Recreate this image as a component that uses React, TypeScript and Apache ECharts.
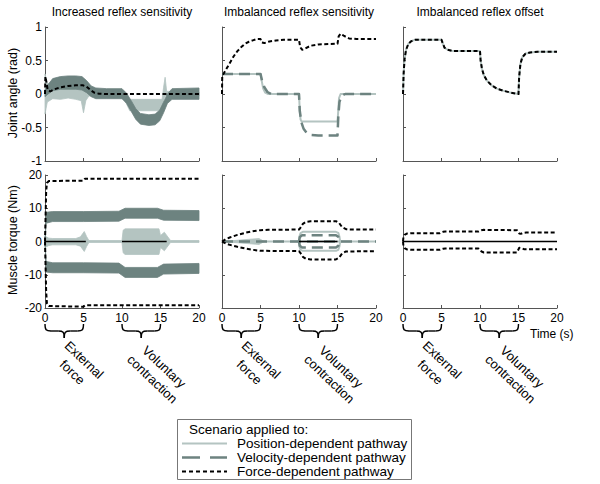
import React, { useEffect, useRef } from "react";
import * as echarts from "echarts";

type P = [number, number];
type B = [number, number, number];

const LIGHT = "#b4c4c1";
const DARK = "#6d8380";
const BLACK = "#000000";
const AXIS = "#555555";
const FONT = "'Liberation Sans', Arial, Helvetica, sans-serif";

const panelTitles = ["Increased reflex sensitivity", "Imbalanced reflex sensitivity", "Imbalanced reflex offset"];
const rowNames = ["Joint angle (rad)", "Muscle torque (Nm)"];
const timeTicks = [0, 5, 10, 15, 20];
const angleTicks = [-1, -0.5, 0, 0.5, 1];
const torqueTicks = [-20, -10, 0, 10, 20];
const timeLabel = "Time (s)";
const braceRanges: P[] = [[0, 5], [10, 15]];
const braceLabels = ["External\nforce", "Voluntary\ncontraction"];
const legendTitle = "Scenario applied to:";
const legendNames = ["Position-dependent pathway", "Velocity-dependent pathway", "Force-dependent pathway"];

// ---- Panel 1: increased reflex sensitivity, joint angle (bands: [t, low, high])
const p1AnglePos: B[] = [
  [0, -0.3, 0.3], [0.3, -0.12, 0.16], [1, -0.07, 0.13], [2, -0.08, 0.14], [3, -0.06, 0.14], [4, -0.08, 0.14],
  [4.7, -0.1, 0.12], [5.0, -0.28, 0.1], [5.3, -0.1, 0.06], [5.7, -0.03, 0.03], [10, -0.03, 0.03],
  [10.4, -0.1, -0.02], [11, -0.25, -0.08], [15.2, -0.25, -0.08], [15.4, -0.1, 0.1], [15.6, -0.03, 0.25],
  [15.8, -0.03, 0.04], [20, -0.03, 0.03],
];
const p1AngleVel: B[] = [
  [0, -0.04, 0.06], [0.4, 0.0, 0.14], [1, 0.05, 0.23], [2, 0.07, 0.26], [3, 0.07, 0.27], [4, 0.07, 0.27],
  [4.8, 0.06, 0.26], [5.4, 0.02, 0.2], [6.0, -0.04, 0.12], [6.6, -0.07, 0.09], [8, -0.07, 0.08], [10, -0.07, 0.08],
  [10.6, -0.14, 0.01], [11.2, -0.26, -0.1], [11.8, -0.38, -0.22], [12.4, -0.45, -0.29], [13.5, -0.47, -0.31],
  [14.3, -0.46, -0.3], [14.9, -0.4, -0.24], [15.4, -0.28, -0.12], [15.9, -0.14, 0.0], [16.5, -0.08, 0.08],
  [20, -0.08, 0.09],
];
const p1AngleForce: P[] = [
  [0, 0], [0.05, 0.26], [0.15, 0.2], [0.35, 0.06], [0.7, 0.04], [1.2, 0.07], [2, 0.1], [3, 0.12], [4, 0.13],
  [4.9, 0.13], [5.4, 0.11], [5.9, 0.06], [6.4, 0.02], [7, 0.005], [8, 0], [20, 0],
];

// ---- Panel 2: imbalanced reflex sensitivity, joint angle
const p2AnglePos: P[] = [
  [0, 0.3], [5, 0.3], [5.15, 0.2], [5.35, 0.08], [5.6, 0.02], [6, 0], [10, 0], [10.1, -0.25], [10.2, -0.38],
  [10.35, -0.41], [15, -0.41], [15.1, -0.25], [15.2, -0.06], [15.4, 0], [20, 0],
];
const p2AngleVel: P[] = [
  [0, 0.3], [5, 0.3], [5.2, 0.2], [5.5, 0.1], [5.9, 0.03], [6.4, 0], [10, 0], [10.1, -0.25], [10.3, -0.42],
  [10.6, -0.52], [11, -0.58], [11.5, -0.61], [12.5, -0.62], [15, -0.62], [15.1, -0.35], [15.25, -0.12],
  [15.5, -0.03], [16, 0], [20, 0],
];
const p2AngleForce: P[] = [
  [0, 0], [0.03, 0.27], [0.5, 0.36], [1, 0.46], [1.5, 0.56], [2, 0.64], [2.5, 0.7], [3, 0.75], [3.5, 0.78],
  [4, 0.8], [4.5, 0.82], [5, 0.82], [5.15, 0.77], [5.5, 0.76], [6, 0.78], [7, 0.8], [8, 0.81], [10, 0.81],
  [10.15, 0.7], [10.4, 0.66], [10.8, 0.68], [11.5, 0.72], [12.5, 0.74], [15, 0.75], [15.15, 0.86], [15.4, 0.9],
  [15.8, 0.87], [16.5, 0.83], [17.5, 0.82], [20, 0.82],
];

// ---- Panel 3: imbalanced reflex offset, joint angle (all pathways coincide)
const p3Angle: P[] = [
  [0, 0], [0.08, 0.3], [0.2, 0.52], [0.4, 0.66], [0.7, 0.75], [1.1, 0.79], [1.6, 0.81], [5, 0.81], [5.15, 0.76],
  [5.4, 0.69], [5.8, 0.66], [6.5, 0.64], [10, 0.64], [10.08, 0.5], [10.25, 0.38], [10.5, 0.28], [10.9, 0.2],
  [11.5, 0.13], [12.2, 0.08], [13, 0.05], [14, 0.02], [15, 0.0], [15.08, 0.25], [15.25, 0.45], [15.5, 0.55],
  [15.9, 0.6], [16.5, 0.62], [17.5, 0.63], [20, 0.63],
];

// ---- Panel 1: muscle torque
const p1TorquePos: B[] = [
  [0, -1.8, 1.6], [0.5, -1.2, 1.0], [1, -1.0, 0.9], [4, -1.0, 0.9], [4.6, -1.4, 1.4], [5.1, -3.0, 3.0],
  [5.4, -1.5, 1.5], [5.7, -0.3, 0.3], [10, -0.3, 0.3], [10.15, -3.4, 3.4], [10.4, -3.9, 3.8], [14.8, -3.9, 3.8],
  [15.0, -1.8, 1.8], [15.5, -2.8, 2.8], [16.3, -0.3, 0.3], [20, -0.3, 0.3],
];
const p1TorqueVelUp: B[] = [
  [0, 0, 0.5], [0.15, 5.5, 8.8], [1, 6.0, 9.0], [5, 6.0, 9.0], [9.6, 6.1, 9.1], [10.4, 7.0, 10.0],
  [14.6, 7.0, 10.0], [15.4, 6.4, 9.4], [20, 6.3, 9.3],
];
const p1TorqueVelLo: B[] = [
  [0, -0.5, 0], [0.15, -9.2, -6.0], [1, -9.4, -6.4], [5, -9.4, -6.4], [9.6, -9.5, -6.5], [10.4, -10.8, -7.8],
  [14.6, -10.8, -7.8], [15.4, -9.8, -6.8], [20, -9.6, -6.6],
];
const p1TorqueForceUp: P[] = [[0, 0], [0.08, 8], [0.15, 15], [0.25, 17.6], [0.5, 18.2], [5, 18.3], [5.2, 18.9], [20, 18.9]];
const p1TorqueForceLo: P[] = [[0, 0], [0.08, -8], [0.15, -15], [0.25, -18.6], [0.5, -19.4], [5, -19.6], [5.2, -19.2], [20, -19.2]];
const p1TorqueNetA: P[] = [[0, 0], [5.3, 0]];
const p1TorqueNetB: P[] = [[10, 0], [15.8, 0]];

// ---- Panel 2: muscle torque
const p2TorqueZero: P[] = [[0, 0], [20, 0]];
const p2TorquePosWedge: B[] = [[0, 0, 0], [4.8, -0.9, 0.9], [5.5, 0, 0]];
const p2TorquePosUp: P[] = [[10, 0], [10.05, 1.5], [10.2, 2.5], [10.5, 2.9], [14.8, 2.9], [15.1, 2.6], [15.25, 1.5], [15.35, 0]];
const p2TorquePosLo: P[] = [[10, 0], [10.05, -1.5], [10.2, -2.5], [10.5, -2.8], [14.8, -2.8], [15.1, -2.5], [15.25, -1.5], [15.35, 0]];
const p2TorqueVelUp: P[] = [[10, 0], [10.1, 1.3], [10.4, 1.9], [14.8, 1.9], [15.1, 1.4], [15.3, 0]];
const p2TorqueVelLo: P[] = [[10, 0], [10.1, -1.3], [10.4, -1.8], [14.8, -1.8], [15.1, -1.3], [15.3, 0]];
const p2TorqueForceUp: P[] = [
  [0, 0], [0.5, 0.7], [1, 1.2], [1.5, 1.6], [2, 2.0], [3, 2.6], [4, 3.1], [5, 3.4], [6, 3.5], [10, 3.6],
  [10.2, 4.2], [10.5, 5.3], [10.9, 5.9], [11.5, 6.1], [14.8, 6.1], [15.2, 5.6], [15.6, 4.3], [16.1, 3.7],
  [17, 3.6], [20, 3.6],
];
const p2TorqueForceLo: P[] = [
  [0, 0], [0.5, -0.6], [1, -1.0], [2, -1.6], [3, -2.1], [4, -2.5], [5, -2.8], [10, -2.9], [10.2, -3.5],
  [10.5, -4.6], [10.9, -5.2], [11.5, -5.4], [14.8, -5.4], [15.2, -4.9], [15.6, -3.6], [16.1, -3.0], [20, -2.9],
];
const p2TorqueNet: P[] = [[10, 0], [15, 0]];

// ---- Panel 3: muscle torque
const p3TorqueNet: P[] = [[0, 0], [20, 0]];
const p3TorqueForceUp: P[] = [
  [0, 0], [0.05, 1.2], [0.2, 2.0], [0.5, 2.4], [1, 2.5], [4.8, 2.5], [5.2, 2.9], [5.5, 3.0], [9.8, 3.0],
  [10.2, 3.4], [10.5, 3.5], [14.8, 3.4], [15.1, 2.4], [15.3, 2.3], [15.6, 2.6], [16, 2.7], [20, 2.7],
];
const p3TorqueForceLo: P[] = [
  [0, 0], [0.05, -1.2], [0.2, -2.0], [0.5, -2.4], [1, -2.5], [4.8, -2.5], [5.2, -2.2], [5.5, -2.1], [9.8, -2.1],
  [10.2, -3.0], [10.5, -3.3], [14.8, -3.3], [15.1, -1.9], [15.4, -2.0], [15.7, -2.3], [16, -2.3], [20, -2.3],
];

// ---- layout
const GRID_LEFT = [45, 222, 403];
const GRID_W = 154;
const ROW_TOP = [27, 175];
const ROW_H = [134, 133];

type Kind = "pos" | "vel" | "force" | "net";
const STYLES: Record<Kind, any> = {
  pos: { color: LIGHT, width: 2, type: "solid" },
  vel: { color: DARK, width: 2.5, type: [11, 6] },
  force: { color: BLACK, width: 2, type: [4, 2.5] },
  net: { color: BLACK, width: 1.5, type: "solid" },
};

function lineS(idx: number, data: P[], kind: Kind) {
  return {
    type: "line",
    xAxisIndex: idx,
    yAxisIndex: idx,
    data,
    symbol: "none",
    showSymbol: false,
    silent: true,
    z: 3,
    lineStyle: { ...STYLES[kind], cap: "butt", join: "round" },
  };
}

function bandS(idx: number, data: B[], color: string) {
  return {
    type: "custom",
    xAxisIndex: idx,
    yAxisIndex: idx,
    silent: true,
    z: 2,
    data: data.map((d) => [d[0], d[1], d[2]]),
    encode: { x: 0, y: [1, 2] },
    renderItem: (params: any, api: any) => {
      if (params.dataIndex !== 0) return null;
      const upper = data.map((d) => api.coord([d[0], d[2]]));
      const lower = data.map((d) => api.coord([d[0], d[1]])).reverse();
      return {
        type: "polygon",
        shape: { points: upper.concat(lower) },
        style: { fill: color, stroke: color, lineWidth: 0.8 },
      };
    },
  };
}

function buildOption() {
  const grids: any[] = [];
  const xAxes: any[] = [];
  const yAxes: any[] = [];
  for (let r = 0; r < 2; r++) {
    for (let c = 0; c < 3; c++) {
      const i = r * 3 + c;
      grids.push({ left: GRID_LEFT[c], top: ROW_TOP[r], width: GRID_W, height: ROW_H[r] });
      xAxes.push({
        type: "value",
        gridIndex: i,
        min: timeTicks[0],
        max: timeTicks[timeTicks.length - 1],
        interval: timeTicks[1] - timeTicks[0],
        axisLine: { show: true, onZero: false, lineStyle: { color: AXIS, width: 1 } },
        axisTick: { show: true, inside: true, length: 3, lineStyle: { color: AXIS } },
        axisLabel: { show: r === 1, color: "#000", fontSize: 12, fontFamily: FONT, margin: 4 },
        splitLine: { show: false },
      });
      const ticks = r === 0 ? angleTicks : torqueTicks;
      yAxes.push({
        type: "value",
        gridIndex: i,
        min: ticks[0],
        max: ticks[ticks.length - 1],
        interval: ticks[1] - ticks[0],
        axisLine: { show: true, onZero: false, lineStyle: { color: AXIS, width: 1 } },
        axisTick: { show: true, inside: true, length: 3, lineStyle: { color: AXIS } },
        axisLabel: { show: c === 0, color: "#000", fontSize: 12, fontFamily: FONT, margin: 3 },
        splitLine: { show: false },
      });
    }
  }

  const series: any[] = [
    // panel 1 angle
    bandS(0, p1AnglePos, LIGHT),
    bandS(0, p1AngleVel, DARK),
    lineS(0, p1AngleForce, "force"),
    // panel 2 angle
    lineS(1, p2AnglePos, "pos"),
    lineS(1, p2AngleVel, "vel"),
    lineS(1, p2AngleForce, "force"),
    // panel 3 angle
    lineS(2, p3Angle, "pos"),
    lineS(2, p3Angle, "force"),
    // panel 1 torque
    bandS(3, p1TorquePos, LIGHT),
    bandS(3, p1TorqueVelUp, DARK),
    bandS(3, p1TorqueVelLo, DARK),
    lineS(3, p1TorqueForceUp, "force"),
    lineS(3, p1TorqueForceLo, "force"),
    lineS(3, p1TorqueNetA, "net"),
    lineS(3, p1TorqueNetB, "net"),
    // panel 2 torque
    bandS(4, p2TorquePosWedge, LIGHT),
    lineS(4, p2TorqueZero, "pos"),
    lineS(4, p2TorquePosUp, "pos"),
    lineS(4, p2TorquePosLo, "pos"),
    lineS(4, p2TorqueZero, "vel"),
    lineS(4, p2TorqueVelUp, "vel"),
    lineS(4, p2TorqueVelLo, "vel"),
    lineS(4, p2TorqueForceUp, "force"),
    lineS(4, p2TorqueForceLo, "force"),
    lineS(4, p2TorqueNet, "net"),
    // panel 3 torque
    lineS(5, p3TorqueNet, "net"),
    lineS(5, p3TorqueForceUp, "force"),
    lineS(5, p3TorqueForceLo, "force"),
  ];

  return {
    animation: false,
    backgroundColor: "#ffffff",
    grid: grids,
    xAxis: xAxes,
    yAxis: yAxes,
    series,
  };
}

function textEl(x: number, y: number, text: string, opts: any = {}) {
  return {
    type: "text",
    x,
    y,
    rotation: opts.rotation || 0,
    silent: true,
    style: {
      text,
      fill: "#000",
      fontSize: opts.fontSize || 12,
      fontFamily: FONT,
      align: opts.align || "center",
      verticalAlign: "middle",
      lineHeight: opts.lineHeight || undefined,
    },
  };
}

function braceEls(xa: number, xb: number, top: number) {
  const h = 14;
  const r = 6;
  const my = top + h / 2;
  const xm = (xa + xb) / 2;
  const bottom = top + h;
  const st = { stroke: "#000", lineWidth: 1.4, fill: "none" };
  return [
    { type: "bezierCurve", silent: true, shape: { x1: xa, y1: top, cpx1: xa, cpy1: my - 1, cpx2: xa + 1, cpy2: my, x2: xa + r, y2: my }, style: st },
    { type: "line", silent: true, shape: { x1: xa + r, y1: my, x2: xm - r, y2: my }, style: st },
    { type: "bezierCurve", silent: true, shape: { x1: xm - r, y1: my, cpx1: xm - 1, cpy1: my, cpx2: xm, cpy2: my + 1, x2: xm, y2: bottom }, style: st },
    { type: "bezierCurve", silent: true, shape: { x1: xm, y1: bottom, cpx1: xm, cpy1: my + 1, cpx2: xm + 1, cpy2: my, x2: xm + r, y2: my }, style: st },
    { type: "line", silent: true, shape: { x1: xm + r, y1: my, x2: xb - r, y2: my }, style: st },
    { type: "bezierCurve", silent: true, shape: { x1: xb - r, y1: my, cpx1: xb - 1, cpy1: my, cpx2: xb, cpy2: my - 1, x2: xb, y2: top }, style: st },
  ];
}

function buildGraphics(chart: any) {
  const g: any[] = [];
  panelTitles.forEach((t, c) => g.push(textEl(GRID_LEFT[c] + GRID_W / 2, 12, t)));
  g.push(textEl(13, 93, rowNames[0], { rotation: Math.PI / 2, fontSize: 12.5 }));
  g.push(textEl(13, 240, rowNames[1], { rotation: Math.PI / 2, fontSize: 12.5 }));
  g.push(textEl(530, 334, timeLabel, { align: "left" }));

  const textDx = [14, 17];
  const textY = [366, 373];
  for (let c = 0; c < 3; c++) {
    braceRanges.forEach((rg, k) => {
      const xa = chart.convertToPixel({ xAxisIndex: 3 + c }, rg[0]);
      const xb = chart.convertToPixel({ xAxisIndex: 3 + c }, rg[1]);
      g.push(...braceEls(xa, xb, 324));
      g.push(textEl((xa + xb) / 2 + textDx[k], textY[k], braceLabels[k], { rotation: -0.76, fontSize: 13, lineHeight: 17 }));
    });
  }

  // legend box
  g.push({ type: "rect", silent: true, shape: { x: 177.5, y: 419.5, width: 234, height: 60 }, style: { fill: "#fff", stroke: "#777", lineWidth: 1 } });
  g.push(textEl(189, 429.5, legendTitle, { align: "left", fontSize: 13.5 }));
  const rowsY = [443.5, 457.5, 471.5];
  const legStyles = [
    { stroke: LIGHT, lineWidth: 2 },
    { stroke: DARK, lineWidth: 2.5, lineDash: [18, 10] },
    { stroke: BLACK, lineWidth: 2, lineDash: [4, 3] },
  ];
  legendNames.forEach((n, k) => {
    g.push({ type: "line", silent: true, shape: { x1: 182, y1: rowsY[k], x2: 227, y2: rowsY[k] }, style: legStyles[k] });
    g.push(textEl(237, rowsY[k], n, { align: "left", fontSize: 13.5 }));
  });
  return g;
}

export default function App() {
  const ref = useRef<HTMLDivElement>(null);
  useEffect(() => {
    if (!ref.current) return;
    const chart = echarts.init(ref.current, undefined, { renderer: "svg" });
    chart.setOption(buildOption() as any);
    chart.setOption({ graphic: buildGraphics(chart) } as any);
    return () => chart.dispose();
  }, []);
  return (
    <div
      ref={ref}
      style={{ position: "fixed", left: 0, top: 0, width: 600, height: 484, background: "#fff" }}
    />
  );
}
